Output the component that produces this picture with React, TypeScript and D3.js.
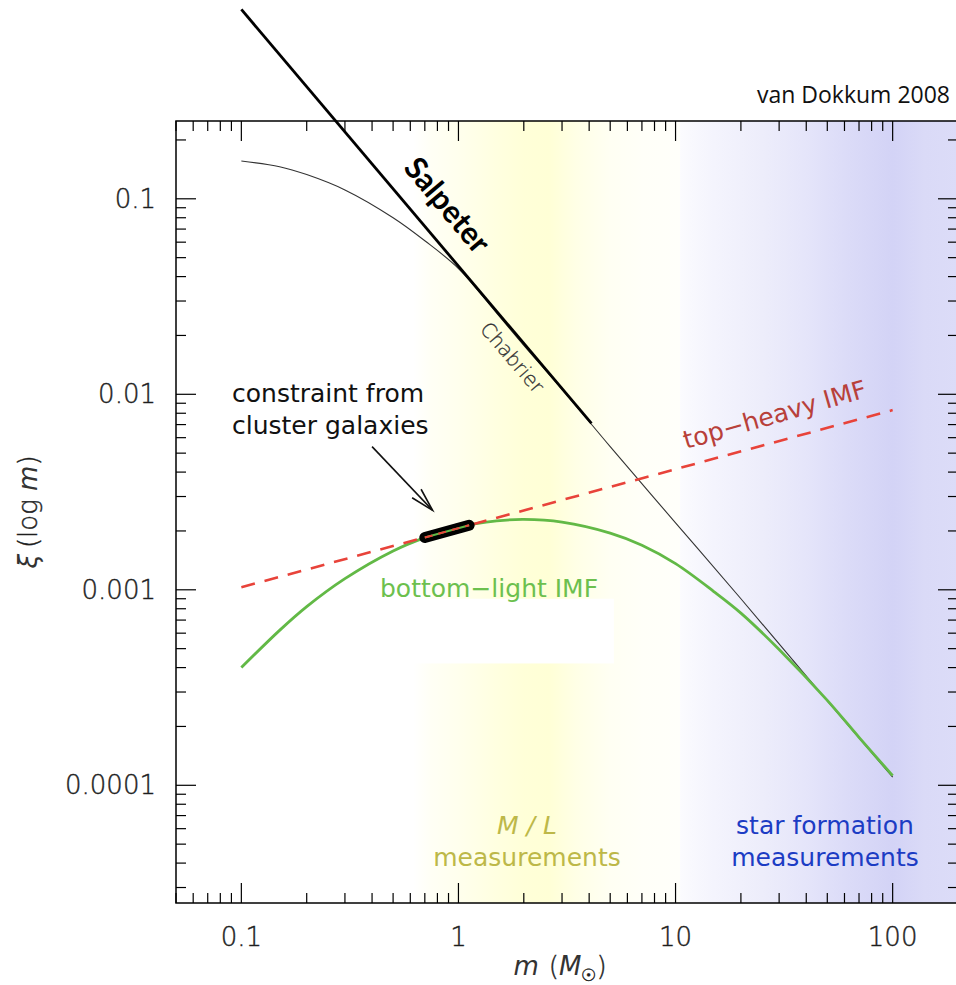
import React from 'react'
import * as d3 from 'd3'

const W = 956
const H = 985

// IMF curves: m in solar masses, xi = dN / dlog m
const chabrierMass = [0.1, 0.15, 0.2, 0.3, 0.5, 0.7, 1, 1.5, 2, 3, 5, 10, 20, 50, 100]
const chabrierXi = [0.156, 0.146, 0.133, 0.111, 0.08, 0.061, 0.044, 0.026, 0.0178, 0.0106, 0.0054, 0.0022, 9.0e-4, 2.7e-4, 1.1e-4]

const salpeterMass = [0.1, 4.1]
const salpeterXi = [0.93, 7.1e-3]

const topHeavyMass = [0.1, 100]
const topHeavyXi = [1.03e-3, 8.3e-3]

const bottomLightMass = [0.1, 0.15, 0.2, 0.3, 0.5, 0.7, 1, 1.5, 2, 3, 5, 7, 10, 15, 20, 30, 50, 70, 100]
const bottomLightXi = [4.0e-4, 6.2e-4, 8.2e-4, 1.14e-3, 1.58e-3, 1.85e-3, 2.09e-3, 2.25e-3, 2.29e-3, 2.22e-3, 1.95e-3, 1.69e-3, 1.36e-3, 9.8e-4, 7.6e-4, 4.95e-4, 2.72e-4, 1.76e-4, 1.12e-4]

// cluster galaxy constraint and the arrow pointing at it
const constraintMass = [0.7, 1.12]
const constraintXi = [1.85e-3, 2.14e-3]
const arrowMass = [0.4, 0.76]
const arrowXi = [5.4e-3, 2.55e-3]

// shaded mass ranges (level 0..1 of the band colour)
const yellowBandMass = [0.62, 0.75, 1.0, 1.5, 2.0, 2.6, 3.5, 5, 7, 10.5]
const yellowBandLevel = [0, 0.25, 0.45, 0.75, 0.95, 1, 0.6, 0.3, 0.18, 0.12]
const blueBandMass = [10.5, 15, 25, 40, 60, 100, 140, 200]
const blueBandLevel = [0.1, 0.25, 0.42, 0.6, 0.8, 1, 0.85, 0.8]
const maskMass = [0.62, 5.2]
const maskXi = [9.0e-4, 4.2e-4]

const xTickValues = [0.1, 1, 10, 100]
const xTickLabels = ['0.1', '1', '10', '100']
const yTickValues = [0.1, 0.01, 0.001, 0.0001]
const yTickLabels = ['0.1', '0.01', '0.001', '0.0001']

const FONT = '"DejaVu Sans", "Liberation Sans", sans-serif'

const App = () => {
  const x = d3.scaleLog().domain([0.05, 200]).range([176, 958])
  const y = d3.scaleLog().domain([2.5e-5, 0.25]).range([903, 121])
  const [x0, x1] = x.range()
  const [y0, y1] = y.range()

  const zip = (a: number[], b: number[]) => a.map((v, i) => [v, b[i]] as [number, number])
  const curve = d3.line<[number, number]>()
    .x(d => x(d[0]))
    .y(d => y(d[1]))
    .curve(d3.curveCatmullRom)

  const isMajor = (t: number) => Math.abs(Math.log10(t) - Math.round(Math.log10(t))) < 1e-6
  const xTicks = x.ticks()
  const yTicks = y.ticks()

  const yellow = d3.interpolateRgb('#ffffff', '#ffffd6')
  const blue = d3.interpolateRgb('#ffffff', '#d3d3f6')

  const stops = (ms: number[], lv: number[], col: (t: number) => string) => {
    const a = x(ms[0]), b = x(ms[ms.length - 1])
    return ms.map((m, i) => (
      <stop key={i} offset={(x(m) - a) / (b - a)} stopColor={col(lv[i])} />
    ))
  }

  // arrow head
  const ax0 = x(arrowMass[0]), ay0 = y(arrowXi[0])
  const ax1 = x(arrowMass[1]), ay1 = y(arrowXi[1])
  const ang = Math.atan2(ay1 - ay0, ax1 - ax0)
  const barb = 24
  const spread = 0.26
  const head = [ang + Math.PI - spread, ang + Math.PI + spread].map(a => [ax1 + barb * Math.cos(a), ay1 + barb * Math.sin(a)])

  const constraintPath = curve(zip(constraintMass, constraintXi)) || ''

  return (
    <svg width={W} height={H} style={{ position: 'absolute', left: 0, top: 0, background: '#fff' }}>
      <defs>
        <linearGradient id="yellowBand" gradientUnits="userSpaceOnUse"
          x1={x(yellowBandMass[0])} x2={x(yellowBandMass[yellowBandMass.length - 1])} y1={0} y2={0}>
          {stops(yellowBandMass, yellowBandLevel, yellow)}
        </linearGradient>
        <linearGradient id="blueBand" gradientUnits="userSpaceOnUse"
          x1={x(blueBandMass[0])} x2={x(blueBandMass[blueBandMass.length - 1])} y1={0} y2={0}>
          {stops(blueBandMass, blueBandLevel, blue)}
        </linearGradient>
      </defs>

      {/* shaded ranges */}
      <rect x={x(yellowBandMass[0])} y={y1} width={x(yellowBandMass[yellowBandMass.length - 1]) - x(yellowBandMass[0])}
        height={y0 - y1} fill="url(#yellowBand)" />
      <rect x={x(blueBandMass[0])} y={y1} width={x(blueBandMass[blueBandMass.length - 1]) - x(blueBandMass[0])}
        height={y0 - y1} fill="url(#blueBand)" />
      <rect x={x(maskMass[0])} y={y(maskXi[0])} width={x(maskMass[1]) - x(maskMass[0])}
        height={y(maskXi[1]) - y(maskXi[0])} fill="#fff" />

      {/* ticks on all four sides */}
      <g stroke="#000" strokeWidth={1.2}>
        {xTicks.map((t, i) => {
          const len = isMajor(t) ? 20 : 10
          return (
            <g key={'x' + i}>
              <line x1={x(t)} x2={x(t)} y1={y0} y2={y0 - len} />
              <line x1={x(t)} x2={x(t)} y1={y1} y2={y1 + len} />
            </g>
          )
        })}
        {yTicks.map((t, i) => {
          const len = isMajor(t) ? 20 : 10
          return (
            <g key={'y' + i}>
              <line x1={x0} x2={x0 + len} y1={y(t)} y2={y(t)} />
              <line x1={x1} x2={x1 - len} y1={y(t)} y2={y(t)} />
            </g>
          )
        })}
      </g>
      <rect x={x0} y={y1} width={x1 - x0} height={y0 - y1} fill="none" stroke="#000" strokeWidth={1.5} />

      {/* tick labels */}
      <g fontFamily={FONT} fontWeight={300} fontSize={26} fill="#1e1e1e" stroke="#1e1e1e" strokeWidth={0.4}>
        {xTickValues.map((t, i) => (
          <text key={'xl' + i} x={x(t)} y={946} textAnchor="middle">{xTickLabels[i]}</text>
        ))}
        {yTickValues.map((t, i) => (
          <text key={'yl' + i} x={156} y={y(t) + 9} textAnchor="end">{yTickLabels[i]}</text>
        ))}
      </g>

      {/* axis titles */}
      <g fontFamily={FONT} fontWeight={300} fontSize={26} fill="#1e1e1e" stroke="#1e1e1e" strokeWidth={0.4}>
        <text x={560} y={975} textAnchor="middle">
          <tspan fontStyle="italic" stroke="none" fill="#333">m</tspan>
          <tspan dx={10}>(</tspan>
          <tspan fontStyle="italic" stroke="none" fill="#333">M</tspan>
          <tspan fontSize={17} dy={6}>☉</tspan>
          <tspan dy={-6}>)</tspan>
        </text>
        <text transform="translate(37,512) rotate(-90)" textAnchor="middle">
          <tspan fontStyle="italic" stroke="none" fill="#333">ξ</tspan>
          <tspan dx={6}>(log </tspan>
          <tspan fontStyle="italic" stroke="none" fill="#333">m</tspan>
          <tspan>)</tspan>
        </text>
      </g>

      {/* curves */}
      <path d={curve(zip(chabrierMass, chabrierXi)) || ''} fill="none" stroke="#333" strokeWidth={1.1} />
      <path d={curve(zip(bottomLightMass, bottomLightXi)) || ''} fill="none" stroke="#62b946" strokeWidth={2.8} />
      <path d={curve(zip(topHeavyMass, topHeavyXi)) || ''} fill="none" stroke="#e8433a" strokeWidth={2.6}
        strokeDasharray="14 10" />
      <path d={curve(zip(salpeterMass, salpeterXi)) || ''} fill="none" stroke="#000" strokeWidth={2.8} />
      <path d={constraintPath} fill="none" stroke="#000" strokeWidth={11} strokeLinecap="round" />
      <path d={constraintPath} fill="none" stroke="#62b946" strokeWidth={2} />
      <path d={constraintPath} fill="none" stroke="#e8433a" strokeWidth={2} strokeDasharray="8 6" />

      {/* arrow */}
      <g stroke="#111" strokeWidth={1.6} fill="none">
        <line x1={ax0} y1={ay0} x2={ax1} y2={ay1} />
        <polyline points={`${head[0][0]},${head[0][1]} ${ax1},${ay1} ${head[1][0]},${head[1][1]}`} />
      </g>

      {/* annotations */}
      <text x={950} y={103} textAnchor="end" fontFamily='"Open Sans", sans-serif' fontSize={23} fill="#111">van Dokkum 2008</text>
      <text transform="translate(439,212) rotate(50)" textAnchor="middle" fontFamily='"Lato", "Open Sans", sans-serif'
        fontWeight="bold" fontSize={31} fill="#000">Salpeter</text>
      <text transform="translate(507,362) rotate(49.4)" textAnchor="middle" fontFamily={FONT} fontWeight={300}
        fontSize={20} fill="#333" stroke="#333" strokeWidth={0.3}>Chabrier</text>
      <text transform="translate(777,423) rotate(-16)" textAnchor="middle" fontFamily={FONT} fontSize={25} fill="#b8403a">top−heavy IMF</text>
      <g fontFamily={FONT} fontSize={25}>
        <text x={232} y={402} fill="#111">constraint from</text>
        <text x={232} y={434} fill="#111">cluster galaxies</text>
        <text x={380} y={597} fill="#6cc04e">bottom−light IMF</text>
        <text x={527} y={834} textAnchor="middle" fill="#bdb848" fontStyle="italic">M / L</text>
        <text x={527} y={866} textAnchor="middle" fill="#bdb848">measurements</text>
        <text x={825} y={834} textAnchor="middle" fill="#1c3cc4">star formation</text>
        <text x={825} y={866} textAnchor="middle" fill="#1c3cc4">measurements</text>
      </g>
    </svg>
  )
}

export default App
